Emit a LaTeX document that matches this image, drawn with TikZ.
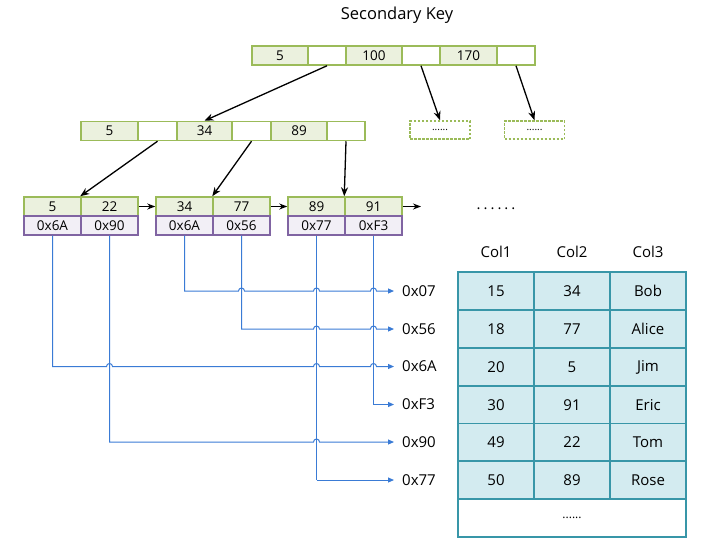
\documentclass[tikz,border=0pt]{standalone}
\usepackage{fontspec}
\setmainfont{Open Sans}
\usetikzlibrary{arrows.meta}
\definecolor{gr}{HTML}{9BBB59}
\definecolor{grf}{HTML}{EBF1DE}
\definecolor{pu}{HTML}{8064A2}
\definecolor{puf}{HTML}{F2EFF6}
\definecolor{tl}{HTML}{3896A8}
\definecolor{tlf}{HTML}{D3EBF0}
\definecolor{bl}{HTML}{3A7BD5}
\newcommand\spdots{.\hspace{3pt}.\hspace{3pt}.\hspace{3pt}.\hspace{3pt}.\hspace{3pt}.}
\tikzset{
  cellbase/.style={inner sep=0pt, minimum height=19, font=\fontsize{13.5}{15}\selectfont},
  gcell/.style={cellbase, draw=gr, fill=grf, line width=1.5pt},
  wcell/.style={cellbase, draw=gr, fill=white, line width=1.5pt},
  pcell/.style={cellbase, draw=pu, fill=puf, line width=1.2pt},
  dcell/.style={cellbase, draw=gr, dashed, dash pattern=on 2.5pt off 1.5pt, line width=1.5pt, minimum width=60, minimum height=18},
  tcell/.style={inner sep=0pt, draw=tl, fill=tlf, line width=1.5pt, minimum width=76, minimum height=38, font=\fontsize{15}{17}\selectfont},
  hdr/.style={font=\fontsize{15}{17}\selectfont},
  addr/.style={anchor=west, inner xsep=8pt, inner ysep=0pt, font=\fontsize{15}{17}\selectfont},
  barrow/.style={line width=1.3pt, -{Stealth[length=9pt,width=7pt]}},
  larrow/.style={line width=1.3pt, -{Stealth[length=8pt,width=6pt]}},
  bline/.style={draw=bl, line width=1pt, -{Triangle[length=6pt,width=5pt]}},
  vline/.style={draw=bl, line width=1pt},
}
\begin{document}
\begin{tikzpicture}[x=1pt,y=-1pt]
\useasboundingbox (0,0) rectangle (703,543);
\node[font=\fontsize{16.5}{19}\selectfont] (title) at (397,15) {Secondary Key};
% top node
\node[gcell, minimum width=56] (t1) at (280,55.5) {5};
\node[wcell, minimum width=38] (te1) at (327,55.5) {};
\node[gcell, minimum width=56] (t2) at (374,55.5) {100};
\node[wcell, minimum width=38] (te2) at (421,55.5) {};
\node[gcell, minimum width=57] (t3) at (468.5,55.5) {170};
\node[wcell, minimum width=38] (te3) at (516,55.5) {};
% middle node
\node[gcell, minimum width=57] (m1) at (109.5,131) {5};
\node[wcell, minimum width=39] (me1) at (157.5,131) {};
\node[gcell, minimum width=55] (m2) at (204.5,131) {34};
\node[wcell, minimum width=39] (me2) at (251.5,131) {};
\node[gcell, minimum width=56] (m3) at (299,131) {89};
\node[wcell, minimum width=38] (me3) at (346,131) {};
% dashed nodes
\node[dcell, font=\fontsize{10}{10}\selectfont] (d1) at (440,130) {......};
\node[dcell, font=\fontsize{10}{10}\selectfont] (d2) at (534.5,130) {......};
% leaves
\node[gcell, minimum width=57] (l1a) at (52.5,206.5) {5};
\node[gcell, minimum width=57] (l1b) at (109.5,206.5) {22};
\node[pcell, minimum width=57] (l1c) at (52.5,225.5) {0x6A};
\node[pcell, minimum width=57] (l1d) at (109.5,225.5) {0x90};
\node[gcell, minimum width=57] (l2a) at (184.5,206.5) {34};
\node[gcell, minimum width=57] (l2b) at (241.5,206.5) {77};
\node[pcell, minimum width=57] (l2c) at (184.5,225.5) {0x6A};
\node[pcell, minimum width=57] (l2d) at (241.5,225.5) {0x56};
\node[gcell, minimum width=57] (l3a) at (316.5,206.5) {89};
\node[gcell, minimum width=57] (l3b) at (373.5,206.5) {91};
\node[pcell, minimum width=57] (l3c) at (316.5,225.5) {0x77};
\node[pcell, minimum width=57] (l3d) at (373.5,225.5) {0xF3};
\coordinate (lend) at (421,206.5);
\node[font=\fontsize{15}{17}\selectfont] (dots) at (496,209) {\spdots};
% tree arrows
\draw[barrow] (te1.south) -- (m2.north);
\draw[barrow] (te2.south) -- (d1.north);
\draw[barrow] (te3.south) -- (d2.north);
\draw[barrow] (me1.south) -- (l1b.north west);
\draw[barrow] (me2.south) -- (l2b.north west);
\draw[barrow] (me3.south) -- (l3b.north west);
\draw[larrow] (l1b.east) -- (l2a.west);
\draw[larrow] (l2b.east) -- (l3a.west);
\draw[larrow] (l3b.east) -- (lend);
% address labels
\node[addr] (a07) at (394,291) {0x07};
\node[addr] (a56) at (394,329) {0x56};
\node[addr] (a6A) at (394,366.5) {0x6A};
\node[addr] (aF3) at (394,404.5) {0xF3};
\node[addr] (a90) at (394,442) {0x90};
\node[addr] (a77) at (394,480) {0x77};
% table
\node[hdr] (h1) at (496,252) {Col1};
\node[hdr] (h2) at (572,252) {Col2};
\node[hdr] (h3) at (648,252) {Col3};
\node[tcell] (r1a) at (496,291) {15};
\node[tcell] (r1b) at (572,291) {34};
\node[tcell] (r1c) at (648,291) {Bob};
\node[tcell] (r2a) at (496,329) {18};
\node[tcell] (r2b) at (572,329) {77};
\node[tcell] (r2c) at (648,329) {Alice};
\node[tcell] (r3a) at (496,367) {20};
\node[tcell] (r3b) at (572,367) {5};
\node[tcell] (r3c) at (648,367) {Jim};
\node[tcell] (r4a) at (496,405) {30};
\node[tcell] (r4b) at (572,405) {91};
\node[tcell] (r4c) at (648,405) {Eric};
\node[tcell] (r5a) at (496,442.5) {49};
\node[tcell] (r5b) at (572,442.5) {22};
\node[tcell] (r5c) at (648,442.5) {Tom};
\node[tcell] (r6a) at (496,480) {50};
\node[tcell] (r6b) at (572,480) {89};
\node[tcell] (r6c) at (648,480) {Rose};
\node[tcell, fill=white, minimum width=228, font=\fontsize{12}{12}\selectfont] (r7) at (572,518) {......};
% vertical pointer lines
\draw[vline] (l3c.south) -- (l3c.south |- a77.west);
\draw[vline] (l3d.south) -- (l3d.south |- aF3.west);
% pointer arrows with hops
\draw[bline] (l2c.south) |- ([xshift=-3pt]l2d.south |- a07.west)
  arc[start angle=180,end angle=360,radius=3] -- ([xshift=-3pt]l3c.south |- a07.west)
  arc[start angle=180,end angle=360,radius=3] -- ([xshift=-3pt]l3d.south |- a07.west)
  arc[start angle=180,end angle=360,radius=3] -- (a07.west);
\draw[bline] (l2d.south) |- ([xshift=-3pt]l3c.south |- a56.west)
  arc[start angle=180,end angle=360,radius=3] -- ([xshift=-3pt]l3d.south |- a56.west)
  arc[start angle=180,end angle=360,radius=3] -- (a56.west);
\draw[bline] (l1c.south) |- ([xshift=-3pt]l1d.south |- a6A.west)
  arc[start angle=180,end angle=360,radius=3] -- ([xshift=-3pt]l3c.south |- a6A.west)
  arc[start angle=180,end angle=360,radius=3] -- ([xshift=-3pt]l3d.south |- a6A.west)
  arc[start angle=180,end angle=360,radius=3] -- (a6A.west);
\draw[bline] (l3d.south |- aF3.west) -- (aF3.west);
\draw[bline] (l1d.south) |- ([xshift=-3pt]l3c.south |- a90.west)
  arc[start angle=180,end angle=360,radius=3] -- (a90.west);
\draw[bline] (l3c.south |- a77.west) -- (a77.west);
\end{tikzpicture}
\end{document}
